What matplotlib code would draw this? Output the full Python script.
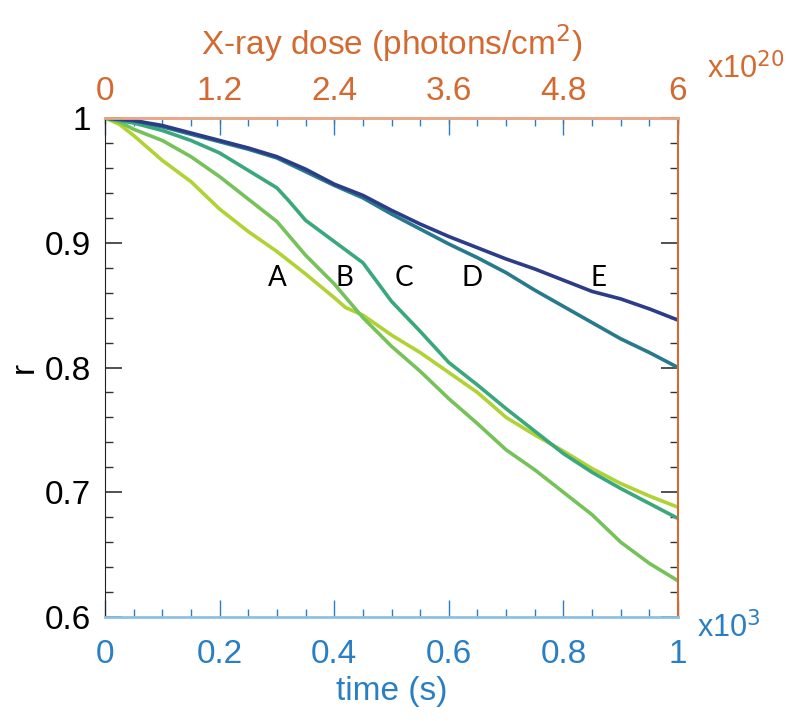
import numpy as np
import matplotlib
matplotlib.use("Agg")
import matplotlib.pyplot as plt
from matplotlib.ticker import MultipleLocator, FixedLocator

plt.rcParams['font.family'] = ['Liberation Sans', 'DejaVu Sans']

# time in seconds, r
t_A = [0, 25, 50, 100, 150, 200, 250, 300, 350, 400, 420, 450, 500, 550, 600, 650, 700, 750, 800, 850, 900, 950, 1000]
r_A = [1.0, 0.995, 0.986, 0.966, 0.949, 0.927, 0.909, 0.893, 0.875, 0.856, 0.848, 0.842, 0.826, 0.812, 0.796, 0.780, 0.760, 0.746, 0.733, 0.719, 0.707, 0.697, 0.688]

t_B = [0, 25, 50, 100, 150, 200, 250, 300, 350, 400, 450, 500, 550, 600, 650, 700, 750, 800, 850, 900, 950, 1000]
r_B = [1.0, 0.997, 0.991, 0.982, 0.969, 0.953, 0.935, 0.917, 0.890, 0.867, 0.840, 0.817, 0.797, 0.775, 0.755, 0.734, 0.718, 0.700, 0.682, 0.660, 0.643, 0.629]

t_C = [0, 50, 100, 150, 200, 250, 300, 320, 350, 400, 450, 500, 550, 600, 650, 700, 750, 800, 850, 900, 950, 1000]
r_C = [1.0, 0.996, 0.990, 0.982, 0.972, 0.958, 0.944, 0.934, 0.918, 0.901, 0.884, 0.853, 0.829, 0.804, 0.786, 0.767, 0.749, 0.731, 0.716, 0.703, 0.691, 0.679]

t_D = [0, 50, 100, 150, 200, 250, 300, 350, 400, 450, 500, 550, 600, 650, 700, 750, 800, 850, 900, 950, 1000]
r_D = [1.0, 0.998, 0.993, 0.987, 0.981, 0.975, 0.968, 0.957, 0.946, 0.936, 0.923, 0.911, 0.899, 0.888, 0.876, 0.862, 0.849, 0.836, 0.823, 0.812, 0.800]

t_E = [0, 50, 100, 150, 200, 250, 300, 350, 400, 450, 500, 550, 600, 650, 700, 750, 800, 850, 900, 950, 1000]
r_E = [1.0, 0.998, 0.994, 0.988, 0.982, 0.976, 0.969, 0.959, 0.947, 0.938, 0.926, 0.915, 0.905, 0.896, 0.887, 0.879, 0.870, 0.861, 0.855, 0.847, 0.838]

labels = ['A', 'B', 'C', 'D', 'E']
label_t = [300, 418, 522, 641, 861]
label_r = 0.872
colors = ['#b0d234', '#76c25a', '#3aa87c', '#277a8c', '#2c3d88']

blue = '#2a7fc4'
orange = '#d26a32'

fig = plt.figure(figsize=(8.03, 7.21), dpi=100)
ax = fig.add_axes([0.1308, 0.1442, 0.7136, 0.6921])

series = [(t_A, r_A), (t_B, r_B), (t_C, r_C), (t_D, r_D), (t_E, r_E)]
for (t, r), c in zip(series, colors):
    ax.plot(np.array(t) / 1000, r, color=c, lw=2.6, solid_capstyle='round')

for lab, lt in zip(labels, label_t):
    ax.text(lt / 1000, label_r, lab, fontsize=20, family=['Lato', 'DejaVu Sans'],
            ha='center', va='center', color='black')

ax.set_xlim(0, 1)
ax.set_ylim(0.6, 1.0)

ax.xaxis.set_major_locator(MultipleLocator(0.2))
ax.xaxis.set_minor_locator(MultipleLocator(0.05))
ax.yaxis.set_major_locator(MultipleLocator(0.1))
ax.yaxis.set_minor_locator(MultipleLocator(0.02))
ax.xaxis.set_major_formatter(plt.FuncFormatter(lambda v, p: f'{v:g}'))
ax.yaxis.set_major_formatter(plt.FuncFormatter(lambda v, p: f'{v:g}'))

ax.tick_params(axis='x', which='both', direction='in', top=True, colors=blue,
               labelsize=24, pad=16)
ax.tick_params(axis='x', which='major', length=12, width=1)
ax.tick_params(axis='x', which='minor', length=6, width=1)
ax.tick_params(axis='y', which='both', direction='in', right=True, colors='#333333',
               labelcolor='black', labelsize=24, pad=10)
ax.tick_params(axis='y', which='major', length=12, width=1.2)
ax.tick_params(axis='y', which='minor', length=6, width=1)

ax.spines['left'].set_color('#222222')
ax.spines['bottom'].set_color('#8ec0e6')
ax.spines['bottom'].set_linewidth(2)
ax.spines['top'].set_color('#eaa88a')
ax.spines['top'].set_linewidth(2)
ax.spines['right'].set_color(orange)
ax.spines['right'].set_linewidth(1.5)

ax.set_xlabel('time (s)', fontsize=24, color=blue, labelpad=4)
ax.set_ylabel('r', fontsize=24, labelpad=4)

sec = ax.secondary_xaxis('top', functions=(lambda x: x * 6, lambda d: d / 6))
sec.xaxis.set_major_locator(FixedLocator([0, 1.2, 2.4, 3.6, 4.8, 6]))
sec.xaxis.set_major_formatter(plt.FuncFormatter(lambda v, p: f'{v:g}'))
sec.tick_params(axis='x', direction='in', length=4, width=1, colors=orange,
                labelsize=24, pad=8)
sec.spines['top'].set_color('#eaa88a')
sec.spines['top'].set_linewidth(2)
sec.set_xlabel('X-ray dose (photons/cm$^2$)', fontsize=24, color=orange, labelpad=15)

ax.text(1.033, -0.055, 'x10$^3$', transform=ax.transAxes, fontsize=22, color=blue,
        ha='left', va='bottom')
ax.text(1.05, 1.065, 'x10$^{20}$', transform=ax.transAxes, fontsize=22, color=orange,
        ha='left', va='bottom')

fig.savefig('out.png', dpi=100)
